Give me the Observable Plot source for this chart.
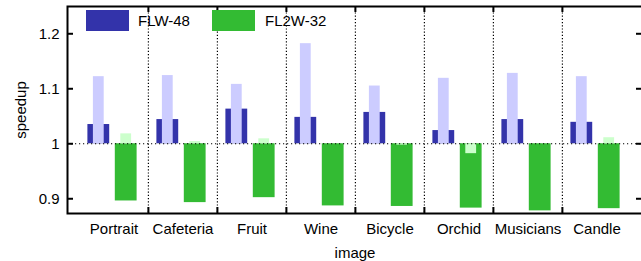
<!DOCTYPE html>
<html>
<head>
<meta charset="utf-8">
<script src="https://cdn.jsdelivr.net/npm/d3@7"></script>
<script src="https://cdn.jsdelivr.net/npm/@observablehq/plot@0.6"></script>
<style>
  html, body { margin: 0; padding: 0; background: #fff; overflow: hidden; }
  #wrap { position: relative; width: 641px; height: 261px; font-family: "Liberation Sans", Arial, Helvetica, sans-serif; }
  .sw { position: absolute; width: 43px; height: 21px; }
  .lt { position: absolute; font-size: 15px; line-height: 21px; color: #000; }
</style>
</head>
<body>
<div id="wrap"></div>
<script>
const images = ["Portrait", "Cafeteria", "Fruit", "Wine", "Bicycle", "Orchid", "Musicians", "Candle"];
const seriesNames = ["FLW-48", "FL2W-32"];
const flw48 = [1.035, 1.044, 1.063, 1.048, 1.057, 1.024, 1.044, 1.039];
const flw48Light = [1.122, 1.124, 1.108, 1.182, 1.105, 1.119, 1.128, 1.122];
const fl2w32 = [0.896, 0.893, 0.902, 0.887, 0.886, 0.883, 0.878, 0.882];
const fl2w32Light = [1.018, 1.004, 1.009, 1.000, 0.9975, 0.982, 1.000, 1.011];
const yTicks = [0.9, 1, 1.1, 1.2];

const W = 641, H = 261, mL = 67, mR = -1, mT = 6, mB = 48;
const padOuter = 0.155;
const bw = (W - mL - mR) / (images.length + 2 * padOuter);
const innerH = H - mT - mB;
const innerW = W - mL - mR;

const rows = images.map((im, i) => ({
  image: im, a: flw48[i], aL: flw48Light[i], b: fl2w32[i], bL: fl2w32Light[i]
}));

const darkBlue = "#3333aa", lightBlue = "#ccccff", green = "#33bb33", lightGreen = "#ccffcc";

const chart = Plot.plot({
  width: W, height: H,
  marginLeft: mL, marginRight: mR, marginTop: mT, marginBottom: mB,
  style: { fontFamily: "Liberation Sans, Arial, Helvetica, sans-serif", fontSize: "15px", background: "#fff", overflow: "visible" },
  x: { type: "band", domain: images, paddingInner: 0, paddingOuter: padOuter, label: null },
  y: { domain: [0.8732, 1.2496], label: null },
  marks: [
    // bars
    Plot.barY(rows, { x: "image", y1: 1, y2: "a", fill: darkBlue, insetLeft: 8.4, insetRight: bw - 30.4 }),
    Plot.barY(rows, { x: "image", y1: 1, y2: "aL", fill: lightBlue, insetLeft: 13.9, insetRight: bw - 24.9 }),
    Plot.barY(rows, { x: "image", y1: 1, y2: "b", fill: green, insetLeft: 35.8, insetRight: bw - 57.8 }),
    Plot.barY(rows, { x: "image", y1: 1, y2: "bL", fill: lightGreen, insetLeft: 41.3, insetRight: bw - 52.3 }),
    // dotted reference line at 1
    Plot.ruleY([1], { stroke: "#000", strokeWidth: 1.2, strokeDasharray: "1.2,2.8" }),
    // dotted group separators
    Plot.ruleX(images.slice(1), { x: d => d, dx: -bw / 2, stroke: "#000", strokeWidth: 1.2, strokeDasharray: "1.2,2" }),
    // separator ticks (top & bottom)
    Plot.ruleX(images.slice(1), { x: d => d, dx: -bw / 2, stroke: "#000", strokeWidth: 2, insetBottom: innerH - 6 }),
    Plot.ruleX(images.slice(1), { x: d => d, dx: -bw / 2, stroke: "#000", strokeWidth: 2, insetTop: innerH - 6 }),
    // y ticks inward, left and mirrored right
    Plot.ruleY(yTicks, { stroke: "#000", strokeWidth: 2, insetRight: innerW - 6 }),
    Plot.ruleY(yTicks, { stroke: "#000", strokeWidth: 2, insetLeft: innerW - 6 }),
    // axes
    Plot.axisY(yTicks, { tickSize: 0, tickPadding: 8, tickFormat: d => String(d), fontSize: 15, label: "speedup", labelAnchor: "center", labelOffset: 52, labelArrow: "none" }),
    Plot.axisX({ tickSize: 0, tickPadding: 10, fontSize: 15, label: "image", labelAnchor: "center", labelOffset: 44, labelArrow: "none" }),
    Plot.frame({ stroke: "#000", strokeWidth: 2 })
  ]
});

const wrap = document.getElementById("wrap");
chart.style.maxWidth = "none";
wrap.appendChild(chart);

// legend inside plot area
const legendItems = [
  { name: seriesNames[0], color: darkBlue, swX: 86, txX: 138 },
  { name: seriesNames[1], color: green, swX: 212, txX: 265 }
];
for (const it of legendItems) {
  const sw = document.createElement("div");
  sw.className = "sw";
  sw.style.left = it.swX + "px"; sw.style.top = "10px"; sw.style.background = it.color;
  wrap.appendChild(sw);
  const tx = document.createElement("div");
  tx.className = "lt";
  tx.style.left = it.txX + "px"; tx.style.top = "10px";
  tx.textContent = it.name;
  wrap.appendChild(tx);
}
</script>
</body>
</html>
